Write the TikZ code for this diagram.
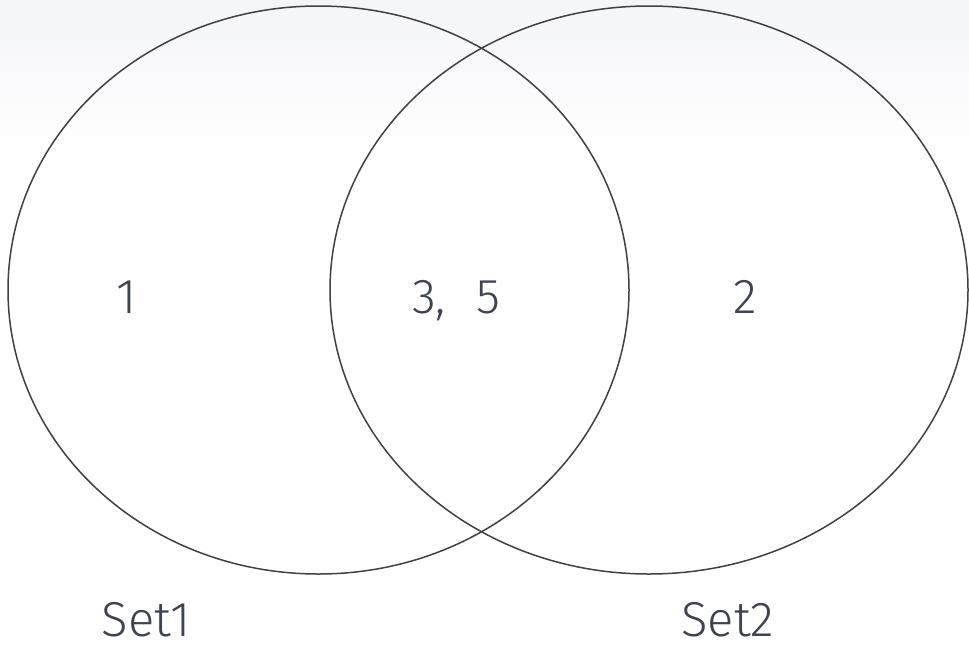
\documentclass[tikz,border=0pt]{standalone}
\usepackage{fontspec}
\setmainfont{Fira Sans}[UprightFont=* Light]
\definecolor{txt}{RGB}{61,67,80}
\definecolor{ln}{RGB}{64,64,64}
\definecolor{bgtop}{RGB}{244,245,248}
\begin{document}
\begin{tikzpicture}[x=1pt,y=-1pt,
  setline/.style={draw=ln,line width=1.5pt},
  lbl/.style={text=txt,font=\fontsize{49}{49}\selectfont,inner sep=0pt,anchor=base}]
\useasboundingbox (0,0) rectangle (969,646);
\shade[top color=bgtop,bottom color=white] (0,0) rectangle (969,160);
\draw[setline] (318.5,290) ellipse [x radius=310.5,y radius=284];
\draw[setline] (649,290) ellipse [x radius=319,y radius=284];
\node[lbl] (a) at (127,313) {1};
\node[lbl] (ab) at (456,313) {3,\hspace*{30pt}5};
\node[lbl] (b) at (745,313) {2};
\node[lbl] (s1) at (146,636) {Set1};
\node[lbl] (s2) at (728,636) {Set2};
\end{tikzpicture}
\end{document}
